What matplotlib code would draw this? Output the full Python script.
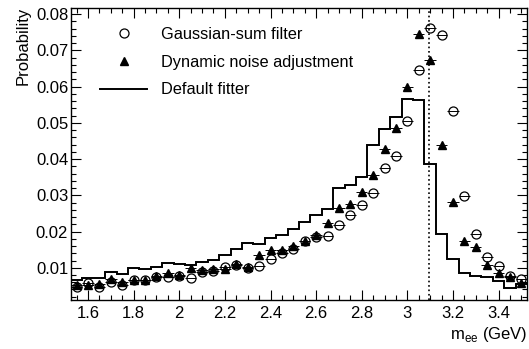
import numpy as np
import matplotlib
matplotlib.use("Agg")
import matplotlib.pyplot as plt
from matplotlib.ticker import MultipleLocator, FuncFormatter
from matplotlib.lines import Line2D

plt.rcParams['font.family'] = ['Liberation Sans', 'DejaVu Sans']
plt.rcParams['mathtext.fontset'] = 'custom'
plt.rcParams['mathtext.rm'] = 'Liberation Sans'

# bin centres (GeV)
mass = [1.55, 1.60, 1.65, 1.70, 1.75, 1.80, 1.85, 1.90, 1.95, 2.00,
        2.05, 2.10, 2.15, 2.20, 2.25, 2.30, 2.35, 2.40, 2.45, 2.50,
        2.55, 2.60, 2.65, 2.70, 2.75, 2.80, 2.85, 2.90, 2.95, 3.00,
        3.05, 3.10, 3.15, 3.20, 3.25, 3.30, 3.35, 3.40, 3.45, 3.50]
bin_width = 0.05

gsf = [0.0046, 0.0057, 0.0047, 0.0060, 0.0053, 0.0065, 0.0066, 0.0074, 0.0075, 0.0077,
       0.0073, 0.0089, 0.0092, 0.0102, 0.0108, 0.0100, 0.0105, 0.0125, 0.0141, 0.0152,
       0.0175, 0.0186, 0.0187, 0.0217, 0.0245, 0.0273, 0.0305, 0.0374, 0.0408, 0.0506,
       0.0646, 0.0762, 0.0742, 0.0532, 0.0298, 0.0194, 0.0130, 0.0104, 0.0078, 0.0069]

dna = [0.0052, 0.0053, 0.0055, 0.0069, 0.0062, 0.0067, 0.0067, 0.0077, 0.0085, 0.0081,
       0.0100, 0.0093, 0.0097, 0.0097, 0.0110, 0.0103, 0.0135, 0.0149, 0.0150, 0.0160,
       0.0175, 0.0191, 0.0224, 0.0264, 0.0277, 0.0309, 0.0357, 0.0427, 0.0486, 0.0600,
       0.0744, 0.0673, 0.0438, 0.0282, 0.0174, 0.0157, 0.0107, 0.0086, 0.0075, 0.0058]

default = [0.0067, 0.0073, 0.0073, 0.0087, 0.0083, 0.0099, 0.0097, 0.0102, 0.0112, 0.0111,
           0.0108, 0.0116, 0.0122, 0.0136, 0.0151, 0.0168, 0.0165, 0.0181, 0.0190, 0.0208,
           0.0227, 0.0247, 0.0261, 0.0319, 0.0328, 0.0351, 0.0438, 0.0482, 0.0517, 0.0565,
           0.0563, 0.0386, 0.0194, 0.0125, 0.0085, 0.0076, 0.0075, 0.0063, 0.0045, 0.0054]

jpsi_mass = 3.097
labels = ["Gaussian-sum filter", "Dynamic noise adjustment", "Default fitter"]

fig = plt.figure(figsize=(5.29, 3.49), dpi=100)
ax = fig.add_axes([71/529, 49/349, 456/529, 292/349])

m = np.array(mass)
edges = np.append(m - bin_width/2, m[-1] + bin_width/2)
ax.stairs(default, edges, color='black', lw=1.4, baseline=None, zorder=2)

ax.errorbar(mass, dna, xerr=bin_width/2, fmt='^', ms=6.0, mfc='black', mec='black',
            ecolor='black', elinewidth=0.7, capsize=0, zorder=3)
ax.errorbar(mass, gsf, xerr=bin_width/2, fmt='o', ms=6.5, mfc='none', mec='black',
            mew=0.9, ecolor='black', elinewidth=0.7, capsize=0, zorder=4)

ax.axvline(jpsi_mass, color='black', ls=':', lw=1.2, zorder=1)

ax.set_xlim(edges[0], edges[-1])
ax.set_ylim(0.0011, 0.0817)

ax.xaxis.set_major_locator(MultipleLocator(0.2))
ax.xaxis.set_minor_locator(MultipleLocator(0.05))
ax.yaxis.set_major_locator(MultipleLocator(0.01))
ax.yaxis.set_minor_locator(MultipleLocator(0.002))
ax.xaxis.set_major_formatter(FuncFormatter(lambda v, p: f"{v:g}"))
ax.yaxis.set_major_formatter(FuncFormatter(lambda v, p: f"{v:.2f}" if v > 0.005 else ""))

ax.tick_params(which='both', direction='in', top=True, right=True, labelsize=12, width=0.8)
ax.tick_params(which='major', length=7)
ax.tick_params(which='minor', length=3.5)
ax.tick_params(axis='x', pad=4)
ax.tick_params(axis='y', pad=2)
for s in ax.spines.values():
    s.set_linewidth(1.0)

ax.text(1.0, -0.085, r"m$_{\mathregular{ee}}$ (GeV)", transform=ax.transAxes,
        ha='right', va='top', fontsize=12)
ax.text(-0.105, 1.004, "Probability", transform=ax.transAxes, rotation=90,
        ha='center', va='top', fontsize=12)

handles = [
    Line2D([], [], marker='o', ls='none', ms=6.5, mfc='none', mec='black', mew=0.9),
    Line2D([], [], marker='^', ls='none', ms=6.0, mfc='black', mec='black'),
    Line2D([], [], color='black', lw=1.4),
]
ax.legend(handles, labels, loc='upper left', bbox_to_anchor=(0.038, 0.975),
          frameon=False, fontsize=11.8, handlelength=2.9, handletextpad=0.85,
          labelspacing=0.78, borderpad=0.2)

fig.savefig("out.png", dpi=100)
